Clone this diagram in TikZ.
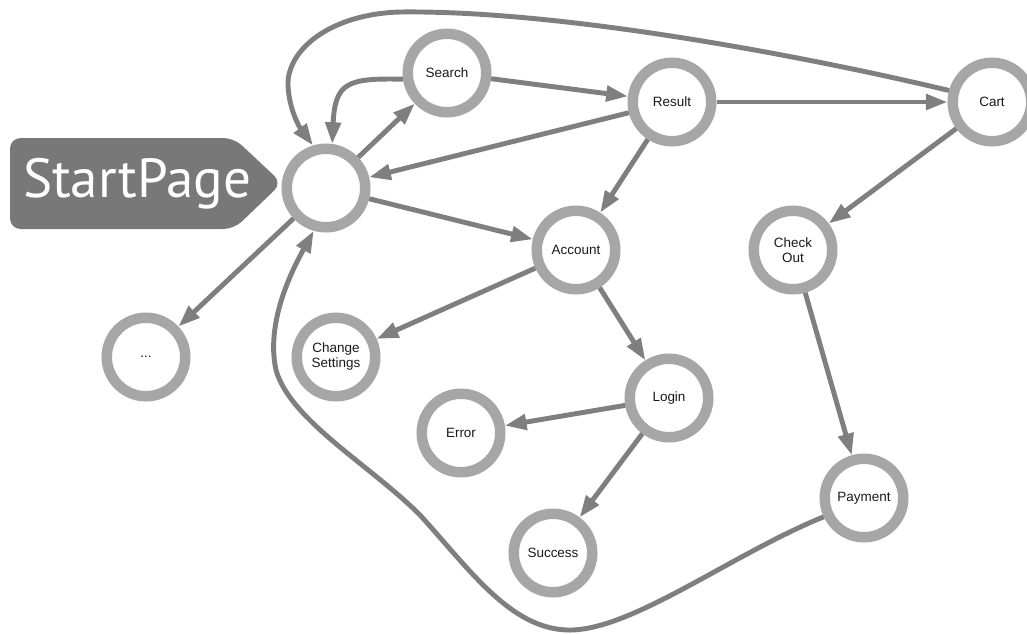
\documentclass[tikz,border=0pt]{standalone}
\usepackage{fontspec}
\setmainfont{Liberation Sans}
\newfontfamily\tabfont{PT Sans}
\usetikzlibrary{arrows.meta}
\definecolor{ringgray}{HTML}{A6A6A6}
\definecolor{edgegray}{HTML}{7F7F7F}
\definecolor{tabgray}{HTML}{787878}
\definecolor{textblack}{HTML}{1A1A1A}
\begin{document}
\begin{tikzpicture}[x=0.03cm,y=-0.03cm,>={Triangle[length=18.5pt,width=13pt]},
    page/.style={circle,draw=ringgray,fill=white,line width=0.315cm,minimum size=2.355cm,inner sep=0pt,align=center,text=textblack,font=\fontsize{11.5}{12.8}\selectfont},
    link/.style={->,draw=edgegray,line width=4.2pt}]
            \useasboundingbox (0,0) rectangle (1027,633);
            % label tab
            \fill[tabgray,rounded corners=9] (10,138) -- (234,138) -- (282,183) -- (234,229) -- (10,229) -- cycle;
            \node[anchor=base,text=white,font=\tabfont\fontsize{47}{50}\selectfont,inner sep=0pt] (tab) at (137,197) {StartPage};
            % pages
            \node[page] (start) at (326,188) {};
            \node[page] (search) at (447,73) {Search};
            \node[page] (result) at (672,102) {Result};
            \node[page] (cart) at (992,102) {Cart};
            \node[page] (account) at (576,250) {Account};
            \node[page] (checkout) at (793,250) {Check\\Out};
            \node[page] (more) at (146,357) {...};
            \node[page] (settings) at (336,357) {Change\\Settings};
            \node[page] (login) at (669,398) {Login};
            \node[page] (error) at (461,433) {Error};
            \node[page] (success) at (553,553) {Success};
            \node[page] (payment) at (864,498) {Payment};
            % straight links
            \draw[link] (start) -- (search);
            \draw[link] (search) -- (result);
            \draw[link] (result) -- (start);
            \draw[link] (result) -- (cart);
            \draw[link] (result) -- (account);
            \draw[link] (cart) -- (checkout);
            \draw[link] (start) -- (account);
            \draw[link] (start) -- (more);
            \draw[link] (account) -- (settings);
            \draw[link] (account) -- (login);
            \draw[link] (login) -- (error);
            \draw[link] (login) -- (success);
            \draw[link] (checkout) -- (payment);
            % curved links back to the start page
            \draw[link] (search.188) .. controls (348,78) and (335,82) .. (start.82);
            \draw[link] (cart.165) .. controls (800,55) and (560,10) .. (400,12)
                .. controls (330,14) and (287,50) .. (288,85)
                .. controls (289,110) and (300,128) .. (start.107);
            \draw[link] (payment.205) .. controls (730,555) and (630,632) .. (567,630)
                .. controls (510,628) and (470,570) .. (420,515)
                .. controls (370,465) and (290,420) .. (276,370)
                .. controls (265,320) and (295,265) .. (start.254);
        \end{tikzpicture}
\end{document}
